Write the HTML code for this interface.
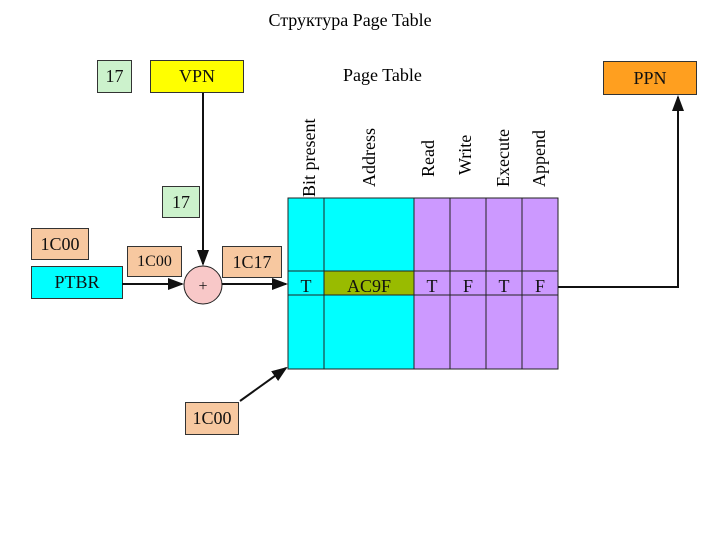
<!DOCTYPE html>
<html><head><style>
body{margin:0;width:720px;height:540px;background:#fff;font-family:"Liberation Serif","Noto Serif CJK SC",serif;position:relative;overflow:hidden}
.b{position:absolute;box-sizing:border-box;border:1px solid #333;display:flex;align-items:center;justify-content:center;font-size:18px;color:#111}
.g{background:#ccf2cc}.o{background:#f7c8a0}.c{background:#00ffff}
.t{position:absolute;font-size:18px}
.r{position:absolute;font-size:18px;transform:rotate(-90deg);transform-origin:left top;white-space:nowrap}
</style></head><body>
<div class="t" style="left:0;width:700px;top:10px;text-align:center;font-size:18px">Структура Page Table</div>
<div class="b g" style="left:97px;top:60px;width:35px;height:33px">17</div>
<div class="b" style="left:150px;top:60px;width:94px;height:33px;background:#ffff00">VPN</div>
<div class="t" style="left:343px;top:65px">Page Table</div>
<div class="b" style="left:603px;top:61px;width:94px;height:34px;background:#ff9f1f">PPN</div>
<div class="b g" style="left:162px;top:186px;width:38px;height:32px">17</div>
<div class="b o" style="left:31px;top:228px;width:58px;height:32px">1C00</div>
<div class="b c" style="left:31px;top:266px;width:92px;height:33px">PTBR</div>
<div class="b o" style="left:127px;top:246px;width:55px;height:31px;font-size:16px">1C00</div>
<div class="b o" style="left:222px;top:246px;width:60px;height:32px">1C17</div>
<div class="b o" style="left:185px;top:402px;width:54px;height:33px">1C00</div>
<div class="r" style="left:299px;top:197px">Bit present</div>
<div class="r" style="left:359px;top:187px">Address</div>
<div class="r" style="left:418px;top:177px">Read</div>
<div class="r" style="left:455px;top:175px">Write</div>
<div class="r" style="left:493px;top:187px">Execute</div>
<div class="r" style="left:529px;top:187px">Append</div>
<svg width="720" height="540" style="position:absolute;left:0;top:0">
<defs><marker id="a" markerWidth="8" markerHeight="8" refX="7" refY="4" orient="auto"><path d="M0,1L8,4L0,7z" fill="#111"/></marker></defs>
<g stroke="#222" stroke-width="1">
<rect x="288" y="198" width="36" height="171" fill="#00ffff"/>
<rect x="324" y="198" width="90" height="171" fill="#00ffff"/>
<rect x="324" y="271" width="90" height="24" fill="#99bb00"/>
<rect x="414" y="198" width="36" height="171" fill="#cc99ff"/>
<rect x="450" y="198" width="36" height="171" fill="#cc99ff"/>
<rect x="486" y="198" width="36" height="171" fill="#cc99ff"/>
<rect x="522" y="198" width="36" height="171" fill="#cc99ff"/>
<line x1="288" y1="271" x2="558" y2="271"/><line x1="288" y1="295" x2="558" y2="295"/>
<circle cx="203" cy="285" r="19" fill="#f8c8c8"/>
</g>
<g stroke="#111" stroke-width="2" fill="none">
<line x1="203" y1="93" x2="203" y2="264" marker-end="url(#a)"/>
<line x1="122" y1="284" x2="182" y2="284" marker-end="url(#a)"/>
<line x1="222" y1="284" x2="286" y2="284" marker-end="url(#a)"/>
<polyline points="558,287 678,287 678,97" marker-end="url(#a)"/>
<line x1="240" y1="401" x2="286" y2="368" marker-end="url(#a)"/>
</g>
<g font-size="18" font-family="Liberation Serif,serif" text-anchor="middle" fill="#111">
<text x="203" y="291" font-size="16">+</text>
<text x="306" y="292">T</text><text x="369" y="292">AC9F</text>
<text x="432" y="292">T</text><text x="468" y="292">F</text><text x="504" y="292">T</text><text x="540" y="292">F</text>
</g>
</svg>
</body></html>
